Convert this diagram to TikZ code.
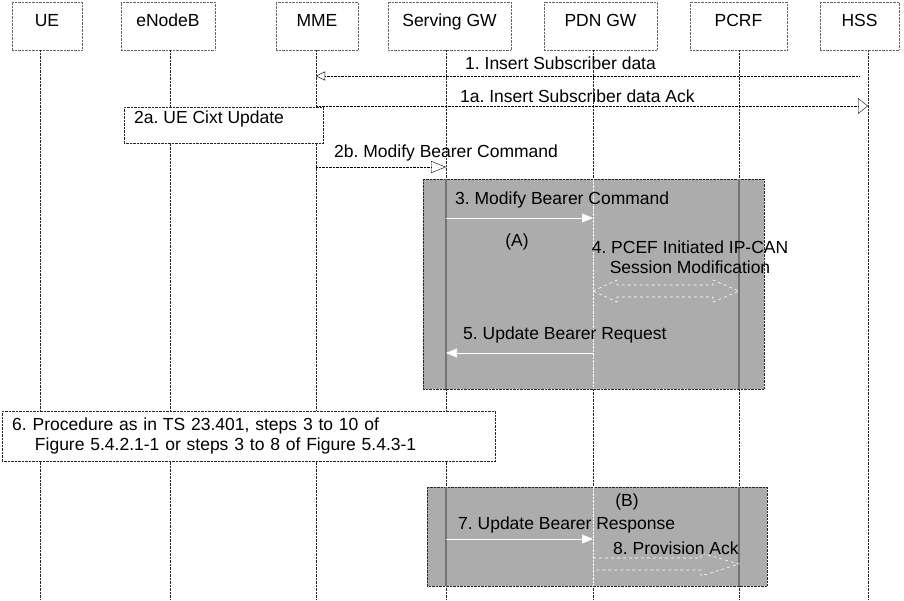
\documentclass[tikz,border=0pt]{standalone}
\usepackage{fontspec}
\setmainfont{Liberation Sans}
\usetikzlibrary{arrows.meta,calc}

\begin{document}
\begin{tikzpicture}[x=1pt,y=-1pt,
  font=\fontsize{17.5}{20}\selectfont\frenchspacing,
  hdr/.style={draw=black!60,densely dotted,minimum height=48pt,text height=12pt,text depth=12pt,inner sep=0pt},
  life/.style={densely dotted,black!85},
  msg/.style={densely dotted,black},
  panel/.style={draw=black!85,densely dotted,fill=gray!65},
  note/.style={draw=black!85,densely dotted,fill=white},
  flow/.style={white,semithick,-{Triangle[length=11pt,width=9pt,fill=white]}},
  fat/.style={draw=white,dashed,semithick}]
\useasboundingbox (0,0) rectangle (904,600);

% entities
\node[hdr,minimum width=70pt] (ueBox) at (47,26) {UE};
\node[hdr,minimum width=94pt] (enbBox) at (168,26) {eNodeB};
\node[hdr,minimum width=82pt] (mmeBox) at (317,26) {MME};
\node[hdr,minimum width=123pt] (sgwBox) at (449.5,26) {Serving GW};
\node[hdr,minimum width=113pt] (pgwBox) at (600.5,26) {PDN GW};
\node[hdr,minimum width=97pt] (pcrfBox) at (738.5,26) {PCRF};
\node[hdr,minimum width=79pt] (hssBox) at (859.5,26) {HSS};

% lifelines
\foreach \n/\x in {ue/40,enb/170,mme/316,sgw/446,pgw/593,pcrf/739,hss/868}{
  \coordinate (\n) at (\x,50);
  \coordinate (\n end) at (\x,600);
  \draw[life] (\n) -- (\n end);
}

% shaded procedures
\draw[panel] (423,179) rectangle (764,389);
\draw[panel] (427,487) rectangle (767,586);
\draw[black!55,line width=1.1pt] (sgw |- 0,179) -- (sgw |- 0,389);
\draw[black!55,line width=1.1pt] (pcrf |- 0,179) -- (pcrf |- 0,389);
\draw[white,densely dotted] (pgw |- 0,179) -- (pgw |- 0,389);
\draw[black!55,line width=1.1pt] (sgw |- 0,487) -- (sgw |- 0,586);
\draw[black!55,line width=1.1pt] (pcrf |- 0,487) -- (pcrf |- 0,586);
\draw[white,densely dotted] (pgw |- 0,487) -- (pgw |- 0,586);

% notes
\node[note,minimum width=199pt,minimum height=36pt,anchor=north west] (ctx) at (124,107) {};
\node[anchor=west,inner sep=0pt] (l2a) at (134,119) {2a. UE Cixt Update};
\node[note,minimum width=493pt,minimum height=50pt,anchor=north west,
  text width=473pt,align=left,inner sep=0pt] (proc) at (2,411)
  {6. Procedure as in TS 23.401, steps 3 to 10 of\\
   \hspace*{1.3em}Figure 5.4.2.1-1 or steps 3 to 8 of Figure 5.4.3-1};

% messages
\coordinate (m1s) at (859,76);
\coordinate (m1e) at (mme |- 0,76);
\draw[msg,-{Triangle[open,length=9pt,width=9pt]}] (m1s) -- (m1e);
\node[anchor=west,inner sep=0pt] (l1) at (465,63) {1. Insert Subscriber data};

\coordinate (m1as) at (mme |- 0,106);
\coordinate (m1ae) at (hss |- 0,106);
\draw[msg,-{Triangle[open,length=10pt,width=16pt]}] (m1as) -- (m1ae);
\node[anchor=west,inner sep=0pt] (l1a) at (460,96) {1a. Insert Subscriber data Ack};

\coordinate (m2bs) at (mme |- 0,167);
\coordinate (m2be) at (sgw |- 0,167);
\draw[msg,-{Triangle[open,length=15pt,width=12pt]}] (m2bs) -- (m2be);
\node[anchor=west,inner sep=0pt] (l2b) at (334,153) {2b. Modify Bearer Command};

\coordinate (m3s) at (sgw |- 0,218);
\coordinate (m3e) at (pgw |- 0,218);
\draw[flow] (m3s) -- (m3e);
\node[anchor=west,inner sep=0pt] (l3) at (455,200) {3. Modify Bearer Command};
\node (lA) at (517,242) {(A)};

\coordinate (a4l) at (pgw |- 0,291);
\coordinate (a4r) at (pcrf |- 0,291);
\draw[fat] (a4l) -- ($(a4l)+(24,-11)$) -- ($(a4l)+(24,-6)$) -- ($(a4r)+(-26,-6)$)
  -- ($(a4r)+(-26,-11)$) -- (a4r) -- ($(a4r)+(-26,11)$) -- ($(a4r)+(-26,6)$)
  -- ($(a4l)+(24,6)$) -- ($(a4l)+(24,11)$) -- cycle;
\node[align=center,inner sep=0pt] (l4) at (690,257) {4. PCEF Initiated IP-CAN\\Session Modification};

\coordinate (m5s) at (pgw |- 0,353);
\coordinate (m5e) at (sgw |- 0,353);
\draw[flow] (m5s) -- (m5e);
\node[anchor=west,inner sep=0pt] (l5) at (463,335) {5. Update Bearer Request};

\node (lB) at (627,502) {(B)};
\coordinate (m7s) at (sgw |- 0,539);
\coordinate (m7e) at (pgw |- 0,539);
\draw[flow] (m7s) -- (m7e);
\node[anchor=west,inner sep=0pt] (l7) at (458,525) {7. Update Bearer Response};

\coordinate (a8l) at (pgw |- 0,564);
\coordinate (a8r) at (pcrf |- 0,564);
\draw[fat] ($(a8l)+(0,-6)$) -- ($(a8r)+(-38,-6)$) -- ($(a8r)+(-38,-11)$) -- (a8r)
  -- ($(a8r)+(-38,12)$) -- ($(a8r)+(-38,6)$) -- ($(a8l)+(0,6)$);
\node[anchor=west,inner sep=0pt] (l8) at (613,548) {8. Provision Ack};
\end{tikzpicture}
\end{document}
